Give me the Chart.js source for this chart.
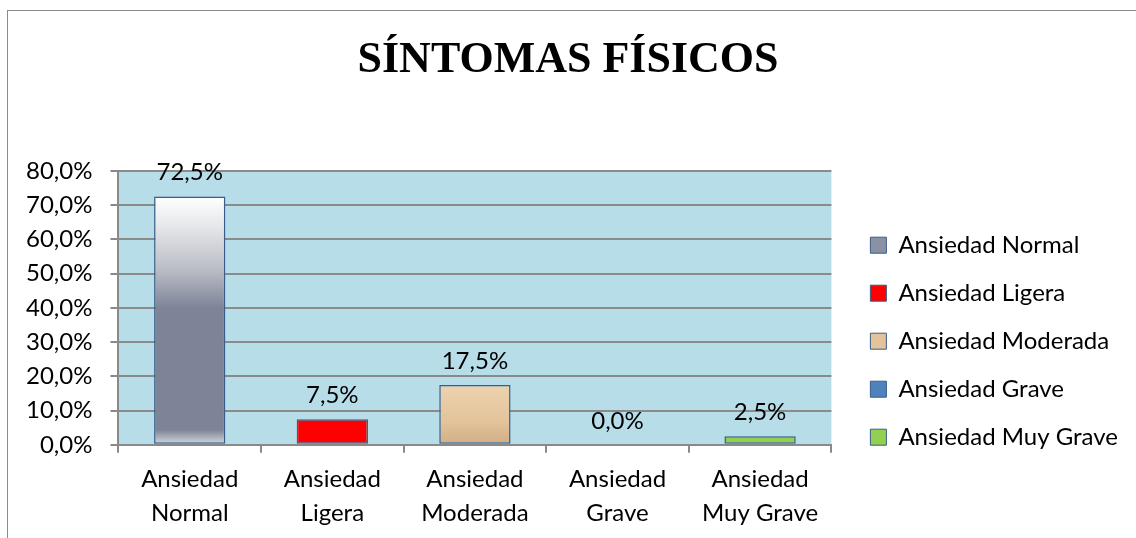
<!DOCTYPE html>
<html>
<head>
<meta charset="utf-8">
<script src="https://cdn.jsdelivr.net/npm/chart.js@4.4.1/dist/chart.umd.min.js"></script>
<style>
  html, body { margin: 0; padding: 0; background: #fff; overflow: hidden; }
  #wrap {
    position: absolute; left: 7px; top: 10px;
    width: 1129px; height: 528px;
    border-top: 1px solid #8c8c8c; border-left: 1px solid #8c8c8c;
  }
</style>
</head>
<body>
<div id="wrap"><canvas id="myChart"></canvas></div>
<script>
const categories = ['Ansiedad Normal', 'Ansiedad Ligera', 'Ansiedad Moderada', 'Ansiedad Grave', 'Ansiedad Muy Grave'];
const values = [72.5, 7.5, 17.5, 0.0, 2.5];
const yTicks = [0, 10, 20, 30, 40, 50, 60, 70, 80];

const legendColors = ['#8a91a3', '#ff0000', '#e4c29b', '#4f81bd', '#92d050'];
const edge = '#385d8a';
const grid = '#8a8a8a';
const font = 'Lato, "Open Sans", sans-serif';

const pct = v => v.toFixed(1).replace('.', ',') + '%';

// fill for each bar, the first and third ones get a gradient
function barFill(ctx) {
  const chart = ctx.chart;
  const i = ctx.dataIndex;
  if (!chart.chartArea || (i !== 0 && i !== 2)) return legendColors[i];
  const y = chart.scales.y;
  const top = y.getPixelForValue(values[i]);
  const bottom = y.getPixelForValue(0);
  const g = chart.ctx.createLinearGradient(0, top, 0, bottom);
  if (i === 0) {
    g.addColorStop(0, '#ffffff');
    g.addColorStop(0.12, '#e6e7ea');
    g.addColorStop(0.3, '#b8bbc5');
    g.addColorStop(0.45, '#7d8497');
    g.addColorStop(0.94, '#7d8497');
    g.addColorStop(0.97, '#aeb1bc');
    g.addColorStop(1, '#d9d9de');
  } else {
    g.addColorStop(0, '#ecd2ae');
    g.addColorStop(0.6, '#e3c49c');
    g.addColorStop(1, '#d2ae84');
  }
  return g;
}

const plotBg = {
  id: 'plotBg',
  beforeDraw(chart) {
    const {ctx, chartArea: a} = chart;
    ctx.save();
    ctx.fillStyle = '#b7dde8';
    ctx.fillRect(a.left, a.top, a.right - a.left, a.bottom - a.top);
    ctx.restore();
  }
};

const valueLabels = {
  id: 'valueLabels',
  afterDatasetsDraw(chart) {
    const {ctx} = chart;
    const meta = chart.getDatasetMeta(0);
    ctx.save();
    ctx.font = '24px ' + font;
    ctx.fillStyle = '#000';
    ctx.textAlign = 'center';
    ctx.textBaseline = 'bottom';
    meta.data.forEach((bar, i) => {
      ctx.fillText(pct(values[i]), bar.x, bar.y - 12);
    });
    ctx.restore();
  }
};

const data = {
  labels: categories,
  datasets: [{
    data: values,
    backgroundColor: barFill,
    borderColor: edge,
    borderWidth: 1.5,
    borderSkipped: false,
    barPercentage: 0.5,
    categoryPercentage: 1
  }]
};

const config = {
  type: 'bar',
  data,
  options: {
    responsive: true,
    maintainAspectRatio: false,
    animation: false,
    layout: { padding: { left: 0, right: 9, top: 0, bottom: 0 } },
    scales: {
      x: {
        offset: true,
        grid: { offset: true, drawOnChartArea: false, drawTicks: true, tickLength: 8, color: grid, lineWidth: 2 },
        border: { color: grid, width: 2 },
        ticks: {
          color: '#000',
          padding: 9,
          maxRotation: 0,
          font: { family: font, size: 24, lineHeight: 1.42 },
          callback: (v, i) => {
            const s = categories[i];
            const k = s.indexOf(' ');
            return [s.slice(0, k), s.slice(k + 1)];
          }
        }
      },
      y: {
        min: 0,
        max: 80,
        afterBuildTicks: s => { s.ticks = yTicks.map(v => ({ value: v })); },
        grid: { color: grid, lineWidth: 2, tickLength: 8 },
        border: { color: grid, width: 2 },
        ticks: {
          color: '#000',
          padding: 18,
          font: { family: font, size: 24 },
          callback: v => pct(v)
        }
      },
      // empty spacer between plot and legend
      gap: {
        position: 'right',
        display: true,
        grid: { display: false },
        border: { display: false },
        ticks: { display: false },
        afterFit: s => { s.width = 15; }
      }
    },
    plugins: {
      title: {
        display: true,
        text: 'SÍNTOMAS FÍSICOS',
        color: '#000',
        font: { family: '"Liberation Serif", "Times New Roman", serif', size: 44, weight: 'bold', lineHeight: 1.2 },
        padding: { top: 23, bottom: 84 }
      },
      legend: {
        position: 'right',
        maxWidth: 320,
        title: {
          display: true,
          text: ' ',
          color: '#000',
          font: { size: 12, lineHeight: 1.2 },
          padding: { top: 59, bottom: 59 }
        },
        labels: {
          color: '#000',
          font: { family: font, size: 24 },
          boxWidth: 16,
          boxHeight: 16,
          padding: 24,
          generateLabels: () => categories.map((c, i) => ({
            text: c,
            fillStyle: legendColors[i],
            strokeStyle: edge,
            fontColor: '#000',
            lineWidth: 1,
            hidden: false,
            index: i
          }))
        }
      },
      tooltip: { enabled: false }
    }
  },
  plugins: [plotBg, valueLabels]
};

const myChart = new Chart(document.getElementById('myChart'), config);
</script>
</body>
</html>
